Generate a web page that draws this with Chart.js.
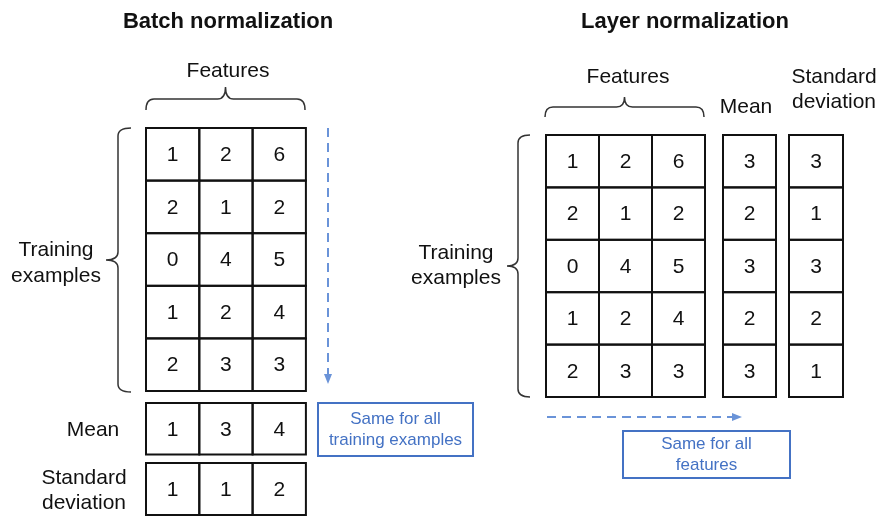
<!DOCTYPE html>
<html>
<head>
<meta charset="utf-8">
<script src="https://cdn.jsdelivr.net/npm/chart.js@4.4.1/dist/chart.umd.min.js"></script>
<style>
  body { margin: 0; background: #fff; }
  #wrap { width: 882px; height: 517px; }
</style>
</head>
<body>
<div id="wrap"><canvas id="diagram" width="882" height="517"></canvas></div>
<script>
// values shown in the two panels
const panelTitles = ['Batch normalization', 'Layer normalization'];
const trainingRows = [[1, 2, 6], [2, 1, 2], [0, 4, 5], [1, 2, 4], [2, 3, 3]];
const batchMean = [1, 3, 4];
const batchStd = [1, 1, 2];
const layerMean = [3, 2, 3, 2, 3];
const layerStd = [3, 1, 3, 2, 1];
const noteBatch = ['Same for all', 'training examples'];
const noteLayer = ['Same for all', 'features'];

const FONT = '"Liberation Sans", Arial, sans-serif';
const BLUE = '#4472c4';
const ARROW = '#6a93d8';

function drawCells(ctx, px, py, x0, y0, cw, ch, rows) {
    ctx.strokeStyle = '#111';
    ctx.lineWidth = 2;
    ctx.fillStyle = '#111';
    ctx.font = '21px ' + FONT;
    ctx.textAlign = 'center';
    ctx.textBaseline = 'middle';
    rows.forEach((row, r) => {
        row.forEach((v, c) => {
            const xa = px(x0 + c * cw), xb = px(x0 + (c + 1) * cw);
            const ya = py(y0 + r * ch), yb = py(y0 + (r + 1) * ch);
            ctx.strokeRect(xa, ya, xb - xa, yb - ya);
            ctx.fillText(String(v), (xa + xb) / 2, (ya + yb) / 2 + 1);
        });
    });
}

function hBrace(ctx, px, py, x1, x2, yEnd, yH, yTip) {
    const cx = (x1 + x2) / 2, r = 8;
    ctx.beginPath();
    ctx.moveTo(px(x1), py(yEnd));
    ctx.quadraticCurveTo(px(x1), py(yH), px(x1 + r), py(yH));
    ctx.lineTo(px(cx - r), py(yH));
    ctx.quadraticCurveTo(px(cx), py(yH), px(cx), py(yTip));
    ctx.quadraticCurveTo(px(cx), py(yH), px(cx + r), py(yH));
    ctx.lineTo(px(x2 - r), py(yH));
    ctx.quadraticCurveTo(px(x2), py(yH), px(x2), py(yEnd));
    ctx.stroke();
}

function vBrace(ctx, px, py, xEnd, xV, xTip, y1, y2) {
    const cy = (y1 + y2) / 2, r = 8;
    ctx.beginPath();
    ctx.moveTo(px(xEnd), py(y1));
    ctx.quadraticCurveTo(px(xV), py(y1), px(xV), py(y1 + r));
    ctx.lineTo(px(xV), py(cy - r));
    ctx.quadraticCurveTo(px(xV), py(cy), px(xTip), py(cy));
    ctx.quadraticCurveTo(px(xV), py(cy), px(xV), py(cy + r));
    ctx.lineTo(px(xV), py(y2 - r));
    ctx.quadraticCurveTo(px(xV), py(y2), px(xEnd), py(y2));
    ctx.stroke();
}

function textLines(ctx, px, py, lines, x, y, gap) {
    lines.forEach((t, i) => ctx.fillText(t, px(x), py(y + i * gap)));
}

function dashedArrow(ctx, px, py, xa, ya, xb, yb) {
    ctx.strokeStyle = ARROW;
    ctx.fillStyle = ARROW;
    ctx.lineWidth = 2;
    ctx.setLineDash([9, 6]);
    ctx.beginPath();
    ctx.moveTo(px(xa), py(ya));
    ctx.lineTo(px(xb), py(yb));
    ctx.stroke();
    ctx.setLineDash([]);
    const ang = Math.atan2(py(yb) - py(ya), px(xb) - px(xa));
    const L = 8, W = 4;
    ctx.beginPath();
    ctx.moveTo(px(xb) + Math.cos(ang) * 2, py(yb) + Math.sin(ang) * 2);
    ctx.lineTo(px(xb) - Math.cos(ang) * L - Math.sin(ang) * W, py(yb) - Math.sin(ang) * L + Math.cos(ang) * W);
    ctx.lineTo(px(xb) - Math.cos(ang) * L + Math.sin(ang) * W, py(yb) - Math.sin(ang) * L - Math.cos(ang) * W);
    ctx.closePath();
    ctx.fill();
}

function noteBox(ctx, px, py, x1, y1, x2, y2, lines) {
    ctx.strokeStyle = BLUE;
    ctx.lineWidth = 2;
    ctx.strokeRect(px(x1), py(y1), px(x2) - px(x1), py(y2) - py(y1));
    ctx.fillStyle = BLUE;
    ctx.font = '17px ' + FONT;
    ctx.textAlign = 'center';
    ctx.textBaseline = 'middle';
    const cx = (x1 + x2) / 2, cy = (y1 + y2) / 2;
    textLines(ctx, px, py, lines, cx, cy - 10, 21);
}

const diagramPlugin = {
    id: 'normDiagram',
    afterDraw(chart) {
        const ctx = chart.ctx;
        const px = v => chart.scales.x.getPixelForValue(v);
        const py = v => chart.scales.y.getPixelForValue(v);
        ctx.save();

        // titles
        ctx.fillStyle = '#111';
        ctx.font = 'bold 22px ' + FONT;
        ctx.textAlign = 'center';
        ctx.textBaseline = 'middle';
        ctx.fillText(panelTitles[0], px(228), py(22));
        ctx.fillText(panelTitles[1], px(685), py(22));

        // ---- batch normalization ----
        drawCells(ctx, px, py, 146, 128, 53.3, 52.6, trainingRows);
        drawCells(ctx, px, py, 146, 403, 53.3, 51.5, [batchMean]);
        drawCells(ctx, px, py, 146, 463, 53.3, 52, [batchStd]);

        ctx.strokeStyle = '#333';
        ctx.lineWidth = 1.5;
        hBrace(ctx, px, py, 146, 305, 110, 99, 87);
        vBrace(ctx, px, py, 131, 118, 106, 128, 392);

        ctx.fillStyle = '#111';
        ctx.font = '21px ' + FONT;
        ctx.textAlign = 'center';
        ctx.textBaseline = 'middle';
        ctx.fillText('Features', px(228), py(71));
        textLines(ctx, px, py, ['Training', 'examples'], 56, 250, 26);
        ctx.fillText('Mean', px(93), py(430));
        textLines(ctx, px, py, ['Standard', 'deviation'], 84, 478, 25);

        dashedArrow(ctx, px, py, 328, 128, 328, 382);
        noteBox(ctx, px, py, 318, 403, 473, 456, noteBatch);

        // ---- layer normalization ----
        drawCells(ctx, px, py, 546, 135, 53, 52.4, trainingRows);
        drawCells(ctx, px, py, 723, 135, 53, 52.4, layerMean.map(v => [v]));
        drawCells(ctx, px, py, 789, 135, 54, 52.4, layerStd.map(v => [v]));

        ctx.strokeStyle = '#333';
        ctx.lineWidth = 1.5;
        hBrace(ctx, px, py, 545, 704, 117, 107, 97);
        vBrace(ctx, px, py, 530, 518, 507, 135, 397);

        ctx.fillStyle = '#111';
        ctx.font = '21px ' + FONT;
        ctx.textAlign = 'center';
        ctx.textBaseline = 'middle';
        ctx.fillText('Features', px(628), py(77));
        ctx.fillText('Mean', px(746), py(107));
        textLines(ctx, px, py, ['Standard', 'deviation'], 834, 77, 25);
        textLines(ctx, px, py, ['Training', 'examples'], 456, 253, 25);

        dashedArrow(ctx, px, py, 547, 417, 740, 417);
        noteBox(ctx, px, py, 623, 431, 790, 478, noteLayer);

        ctx.restore();
    }
};

new Chart(document.getElementById('diagram'), {
    type: 'scatter',
    data: { datasets: [] },
    options: {
        responsive: false,
        animation: false,
        layout: { padding: 0 },
        plugins: { legend: { display: false }, tooltip: { enabled: false } },
        scales: {
            x: { type: 'linear', min: 0, max: 882, display: false },
            y: { type: 'linear', min: 0, max: 517, reverse: true, display: false }
        }
    },
    plugins: [diagramPlugin]
});
</script>
</body>
</html>
